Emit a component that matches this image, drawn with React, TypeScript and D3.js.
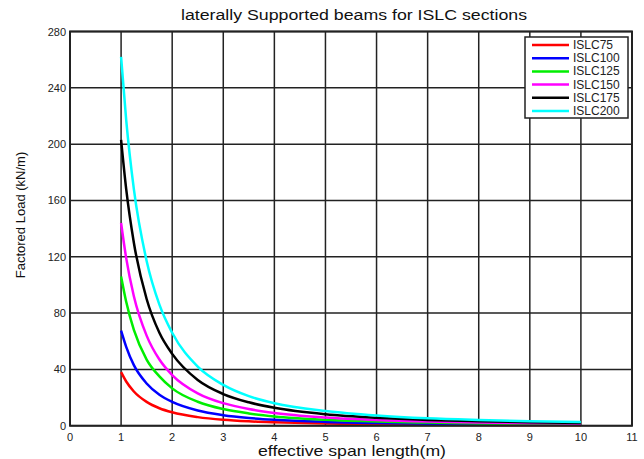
import React from "react";
import * as d3 from "d3";

const spans = [1, 1.1, 1.25, 1.5, 1.75, 2, 2.5, 3, 3.5, 4, 5, 6, 7, 8, 9, 10];
const seriesNames = ["ISLC75", "ISLC100", "ISLC125", "ISLC150", "ISLC175", "ISLC200"];
const seriesColors = ["#ff0000", "#0000ff", "#00ee00", "#ff00ff", "#000000", "#00ffff"];
const islc75 = [38, 31.4, 24.3, 16.9, 12.4, 9.5, 6.1, 4.2, 3.1, 2.4, 1.5, 1.05, 0.78, 0.6, 0.47, 0.38];
const islc100 = [67.5, 56, 43, 30, 22, 16.9, 10.8, 7.5, 5.5, 4.2, 2.7, 1.9, 1.4, 1.05, 0.83, 0.68];
const islc125 = [106, 88, 68, 47, 35, 26.5, 17, 11.8, 8.7, 6.6, 4.2, 2.9, 2.2, 1.65, 1.3, 1.05];
const islc150 = [144, 119, 92, 64, 47, 36, 23, 16, 11.8, 9.0, 5.8, 4.0, 2.9, 2.25, 1.8, 1.45];
const islc175 = [203, 168, 130, 90, 66, 51, 32.5, 22.5, 16.6, 12.7, 8.1, 5.6, 4.1, 3.2, 2.5, 2.0];
const islc200 = [262, 217, 168, 117, 86, 66, 42, 29, 21, 16, 10.5, 7.3, 5.3, 4.1, 3.2, 2.6];
const seriesValues = [islc75, islc100, islc125, islc150, islc175, islc200];
const xTicks = [0, 1, 2, 3, 4, 5, 6, 7, 8, 9, 10, 11];
const yTicks = [0, 40, 80, 120, 160, 200, 240, 280];

const W = 644;
const H = 459;
const L = 70, R = 632, T = 31.5, B = 425.7;
const FONT = "'Liberation Sans', Arial, sans-serif";

export default function App() {
  const x = d3.scaleLinear().domain([0, 11]).range([L, R]);
  const y = d3.scaleLinear().domain([0, 280]).range([B, T]);
  const line = d3
    .line<[number, number]>()
    .x((d) => x(d[0]))
    .y((d) => y(d[1]))
    .curve(d3.curveMonotoneX);

  const legX = 525, legY = 37, legW = 103, legH = 81;
  return (
    <svg
      width={W}
      height={H}
      style={{ position: "absolute", left: 0, top: 0, background: "#fff" }}
      fontFamily={FONT}
    >
      <rect x={0} y={0} width={W} height={H} fill="#fff" />
      <text
        x={354}
        y={20}
        textAnchor="middle"
        fontSize={15.5}
        fill="#111"
        textLength={346}
        lengthAdjust="spacingAndGlyphs"
      >
        laterally Supported beams for ISLC sections
      </text>
      {xTicks.map((t) => (
        <line key={"gx" + t} x1={x(t)} x2={x(t)} y1={T} y2={B} stroke="#222" strokeWidth={1.5} />
      ))}
      {yTicks.map((t) => (
        <line key={"gy" + t} x1={L} x2={R} y1={y(t)} y2={y(t)} stroke="#222" strokeWidth={1.5} />
      ))}
      {seriesValues.map((vals, i) => (
        <path
          key={seriesNames[i]}
          d={line(spans.map((s, j) => [s, vals[j]] as [number, number])) || ""}
          fill="none"
          stroke={seriesColors[i]}
          strokeWidth={2.5}
        />
      ))}
      <rect x={L} y={T} width={R - L} height={B - T} fill="none" stroke="#222" strokeWidth={2} />
      {xTicks.map((t) => (
        <text key={"tx" + t} x={x(t)} y={441} textAnchor="middle" fontSize={11} fill="#222">
          {t}
        </text>
      ))}
      {yTicks.map((t) => (
        <text key={"ty" + t} x={66} y={y(t) + 4} textAnchor="end" fontSize={11} fill="#222">
          {t}
        </text>
      ))}
      <text
        x={352}
        y={456}
        textAnchor="middle"
        fontSize={14.5}
        fill="#111"
        textLength={188}
        lengthAdjust="spacingAndGlyphs"
      >
        effective span length(m)
      </text>
      <text
        transform={`translate(25,215) rotate(-90)`}
        textAnchor="middle"
        fontSize={13}
        fill="#111"
      >
        Factored Load (kN/m)
      </text>
      <rect x={legX} y={legY} width={legW} height={legH} fill="#fff" stroke="#222" strokeWidth={1.5} />
      {seriesNames.map((n, i) => (
        <g key={"lg" + n}>
          <line
            x1={532}
            x2={569}
            y1={legY + 8 + i * 13.2}
            y2={legY + 8 + i * 13.2}
            stroke={seriesColors[i]}
            strokeWidth={2.5}
          />
          <text x={573} y={legY + 12 + i * 13.2} fontSize={12} fill="#222">
            {n}
          </text>
        </g>
      ))}
    </svg>
  );
}
